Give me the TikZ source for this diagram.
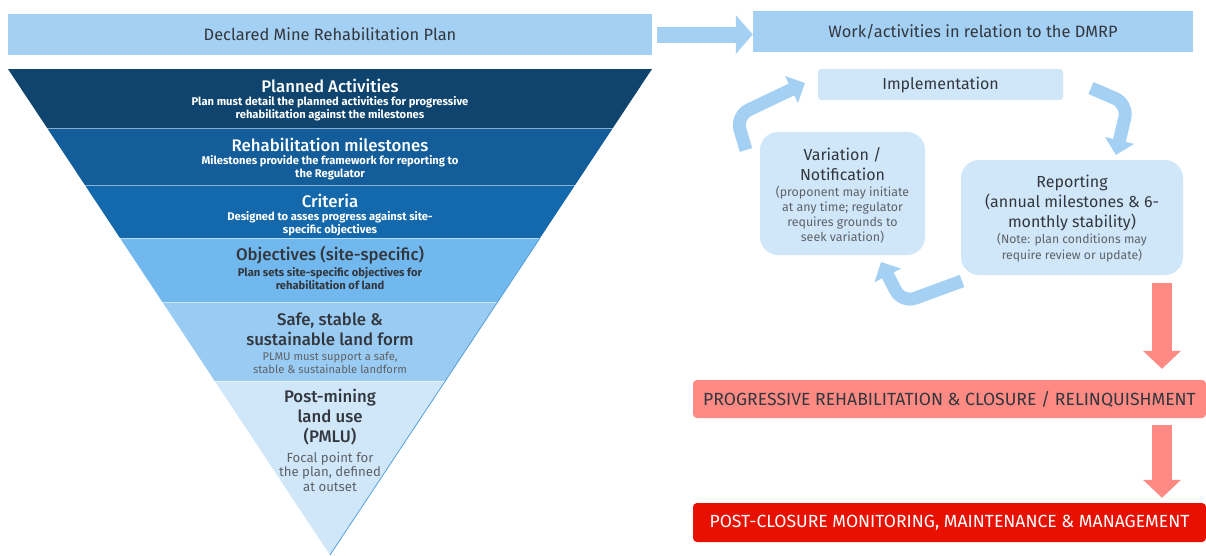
\documentclass[tikz,border=0pt]{standalone}
\usepackage{fontspec}
\setmainfont{Fira Sans}
\newfontfamily\medfont{Fira Sans Medium}
\usetikzlibrary{arrows.meta}

\definecolor{barblue}{HTML}{A4D0F4}
\definecolor{paleblue}{HTML}{D0E7FA}
\definecolor{layA}{HTML}{0E446E}
\definecolor{layB}{HTML}{135D9B}
\definecolor{layC}{HTML}{1468AC}
\definecolor{layD}{HTML}{71B8EE}
\definecolor{layE}{HTML}{99CBF3}
\definecolor{layF}{HTML}{D0E7FA}
\definecolor{txtdark}{HTML}{33373D}
\definecolor{txtgray}{HTML}{5E6267}
\definecolor{salmon}{HTML}{FF8A84}
\definecolor{closered}{HTML}{E81000}

\tikzset{
  bar/.style={fill=barblue, text=txtdark, inner sep=0pt, font=\fontsize{16.4}{19}\selectfont},
  laytitle/.style={align=center, font=\medfont\fontsize{16.8}{20}\selectfont},
  laysub/.style={align=center, font=\bfseries\fontsize{11.2}{13}\selectfont},
  cyclenote/.style={align=center, text=txtgray, font=\fontsize{12.4}{15}\selectfont},
  cycletitle/.style={align=center, text=txtdark, font=\fontsize{16}{20}\selectfont},
  cyclebox/.style={fill=paleblue, rounded corners=18pt, inner sep=0pt},
  looparrow/.style={draw=barblue, line width=13pt, rounded corners=14pt, -{Triangle[width=29pt,length=15pt]}},
  redarrow/.style={draw=salmon, line width=20pt, -{Triangle[width=37pt,length=18pt]}},
  phase/.style={rounded corners=4pt, minimum width=513pt, minimum height=38pt, inner sep=0pt, font=\fontsize{17.6}{20}\selectfont}
}

\begin{document}
\begin{tikzpicture}[x=1pt, y=-1pt]
  \useasboundingbox (0,0) rectangle (1206,555);

  % funnel layers
  \foreach \ya/\yb/\col in {69/128/layA,128/185/layB,185/238/layC,238/302/layD,302/381/layE}
    \fill[\col] ({8+(\ya-69)*0.6626},\ya) -- ({652-(\ya-69)*0.6626},\ya)
      -- ({652-(\yb-69)*0.6626},\yb) -- ({8+(\yb-69)*0.6626},\yb) -- cycle;
  \fill[layF] (214.7,381) -- (445.3,381) -- (330,555) -- cycle;
  \foreach \yy in {128,185,238,302,381}
    \draw[white, opacity=0.5, line width=0.6pt] ({8+(\yy-69)*0.6626},\yy) -- ({652-(\yy-69)*0.6626},\yy);
  \draw[layD!70!layC, line width=0.8pt] (540,238) -- (330,555);

  % funnel texts
  \node (pa) at (330,86) [laytitle, text=white] {Planned Activities};
  \node (pasub) at (330,108.5) [laysub, text=white] {Plan must detail the planned activities for progressive\\rehabilitation against the milestones};
  \node (rm) at (330,145) [laytitle, text=white] {Rehabilitation milestones};
  \node (rmsub) at (330,167.5) [laysub, text=white] {Milestones provide the framework for reporting to\\the Regulator};
  \node (cr) at (330,201) [laytitle, text=white] {Criteria};
  \node (crsub) at (330,223.5) [laysub, text=white] {Designed to asses progress against site-\\specific objectives};
  \node (ob) at (330,255) [laytitle, text=txtdark] {Objectives (site-specific)};
  \node (obsub) at (330,278.5) [laysub, text=txtdark] {Plan sets site-specific objectives for\\rehabilitation of land};
  \node (sf) at (330,329.5) [laytitle, text=txtdark] {Safe, stable \&\\sustainable land form};
  \node (sfsub) at (330,362.5) [cyclenote, font=\fontsize{11.2}{13}\selectfont] {PLMU must support a safe,\\stable \& sustainable landform};
  \node (pm) at (330,417) [laytitle, text=txtdark] {Post-mining\\land use\\(PMLU)};
  \node (pmsub) at (330,471.5) [cyclenote, font=\fontsize{13.2}{14.5}\selectfont] {Focal point for\\the plan, defined\\at outset};

  % top bars
  \node (dmrp) at (330,34.5) [bar, minimum width=644pt, minimum height=41pt] {Declared Mine Rehabilitation Plan};
  \node (work) at (973,31.5) [bar, minimum width=440pt, minimum height=41pt] {Work/activities in relation to the DMRP};
  \draw[draw=barblue, line width=16pt, -{Triangle[width=38pt,length=17pt]}, shorten <=5pt]
    (dmrp.east) -- (dmrp.east -| work.west);

  % cycle
  \node (impl) at (940.5,84.5) [fill=paleblue, rounded corners=3pt, minimum width=245pt, minimum height=31pt, inner sep=0pt, text=txtdark, font=\fontsize{16}{18}\selectfont] {Implementation};
  \node (var) at (842.5,193.5) [cyclebox, minimum width=165pt, minimum height=123pt] {};
  \node (vartitle) at (842.5,164) [cycletitle] {Variation /\\Notification};
  \node (varnote) at (842.5,214.5) [cyclenote] {(proponent may initiate\\at any time; regulator\\requires grounds to\\seek variation)};
  \node (rep) at (1072,217.5) [cyclebox, minimum width=222pt, minimum height=115pt] {};
  \node (reptitle) at (1072,203) [cycletitle] {Reporting\\(annual milestones \& 6-\\monthly stability)};
  \node (repnote) at (1072,248) [cyclenote, font=\fontsize{12.2}{16}\selectfont] {(Note: plan conditions may\\require review or update)};

  \coordinate (va) at (746,150);
  \coordinate (vb) at (736,116);
  \coordinate (vc) at (805,83);
  \coordinate (ia) at (1091,88);
  \coordinate (ib) at (1128,104);
  \coordinate (ic) at (1116,155);
  \coordinate (ra) at (962,281);
  \coordinate (rb) at (902,303);
  \coordinate (rc) at (881,262);
  \draw[looparrow] (va) -- (vb) -- (vc);
  \draw[looparrow] (ia) -- (ib) -- (ic);
  \draw[looparrow] (ra) -- (rb) -- (rc);

  % closure phases
  \node (prog) at (949.5,399) [phase, fill=salmon, text=txtdark] {PROGRESSIVE REHABILITATION \& CLOSURE / RELINQUISHMENT};
  \node (post) at (949.5,522.5) [phase, fill=closered, text=white, minimum height=39pt] {POST-CLOSURE MONITORING, MAINTENANCE \& MANAGEMENT};
  \coordinate (r1) at (1162,283);
  \draw[redarrow] (r1) -- (r1 |- prog.north) [shorten >=11pt];
  \draw[redarrow, shorten <=7pt, shorten >=5pt] (prog.south -| r1) -- (r1 |- post.north);
\end{tikzpicture}
\end{document}
